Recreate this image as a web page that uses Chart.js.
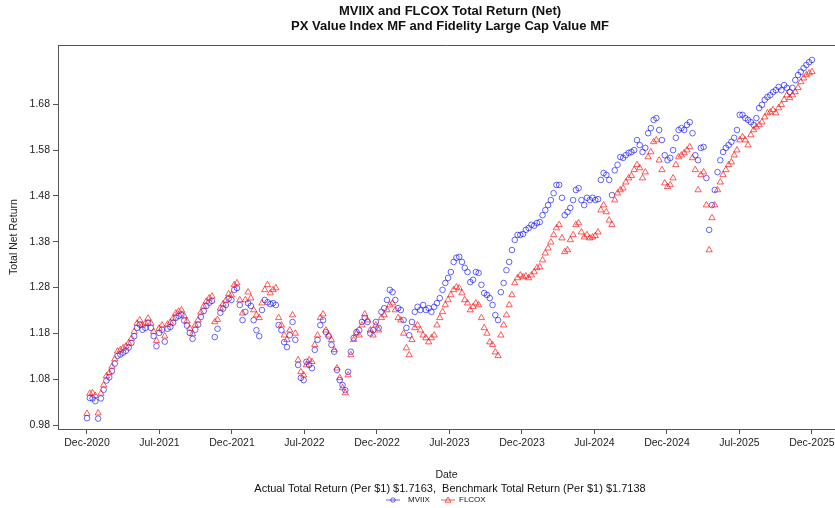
<!DOCTYPE html>
<html>
<head>
<meta charset="utf-8">
<script src="https://cdn.jsdelivr.net/npm/chart.js@4.4.1/dist/chart.umd.min.js"></script>
<style>
  html, body { margin: 0; padding: 0; background: #fff; }
  #wrap { width: 835px; height: 508px; }
</style>
</head>
<body>
<div id="wrap"><canvas id="chart" width="835" height="508"></canvas></div>
<script>
'use strict';

// weekly readings, Dec-2020 .. Dec-2025 (week index 0..261)
const mviixValues = [
  0.995,1.039,1.038,1.032,0.994,1.038,1.057,1.077,1.084,1.098,1.114,1.131,1.134,1.138,1.142,1.149,1.159,1.174,1.192,1.199,1.188,1.192,1.203,1.192,1.174,1.152,1.181,1.188,1.162,1.19,1.194,1.203,1.214,1.218,1.221,1.208,1.197,1.181,1.168,1.188,1.199,1.216,1.229,1.24,1.247,1.251,1.172,1.19,1.225,1.234,1.242,1.256,
  1.253,1.275,1.279,1.242,1.209,1.227,1.246,1.24,1.209,1.187,1.174,1.231,1.253,1.248,1.244,1.246,1.242,1.198,1.187,1.161,1.15,1.176,1.205,1.166,1.111,1.083,1.078,1.118,1.111,1.104,1.144,1.166,1.198,1.209,1.183,1.174,1.155,1.14,1.1,1.078,1.067,1.056,1.096,1.14,1.17,1.183,1.187,1.205,1.214,1.205,1.18,1.187,1.205,
  1.192,1.227,1.235,1.253,1.275,1.27,1.253,1.235,1.231,1.209,1.192,1.176,1.205,1.227,1.238,1.231,1.242,1.231,1.235,1.227,1.238,1.246,1.257,1.275,1.29,1.301,1.314,1.336,1.345,1.347,1.336,1.323,1.314,1.292,1.297,1.314,1.312,1.286,1.268,1.264,1.257,1.242,1.22,1.209,1.27,1.29,1.318,1.336,1.362,1.384,1.395,1.395,
  1.397,1.406,1.41,1.417,1.415,1.421,1.423,1.438,1.449,1.46,1.471,1.486,1.504,1.504,1.476,1.438,1.445,1.454,1.471,1.493,1.497,1.471,1.46,1.476,1.471,1.476,1.471,1.473,1.515,1.53,1.526,1.515,1.482,1.536,1.548,1.565,1.563,1.569,1.574,1.576,1.58,1.602,1.591,1.576,1.585,1.617,1.628,1.646,1.65,1.624,1.602,1.569,1.558,
  1.563,1.58,1.607,1.624,1.628,1.624,1.635,1.641,1.617,1.569,1.558,1.585,1.587,1.519,1.406,1.46,1.493,1.532,1.558,1.576,1.585,1.591,1.598,1.607,1.624,1.657,1.657,1.65,1.646,1.641,1.635,1.65,1.672,1.679,1.69,1.696,1.7,1.707,1.711,1.718,1.711,1.722,1.716,1.707,1.716,1.733,1.744,1.751,1.759,1.766,1.772,1.777
];

const flcoxValues = [
  1.005,1.049,1.05,1.044,1.006,1.049,1.067,1.087,1.094,1.108,1.124,1.141,1.144,1.148,1.152,1.159,1.169,1.184,1.202,1.209,1.198,1.202,1.213,1.202,1.184,1.164,1.191,1.198,1.174,1.2,1.204,1.213,1.224,1.228,1.231,1.218,1.207,1.191,1.179,1.198,1.209,1.226,1.239,1.25,1.257,1.261,1.205,1.21,1.235,1.244,1.252,1.266,
  1.264,1.286,1.29,1.253,1.224,1.253,1.27,1.257,1.231,1.22,1.214,1.246,1.275,1.286,1.268,1.275,1.279,1.214,1.198,1.176,1.166,1.187,1.22,1.18,1.122,1.096,1.089,1.111,1.122,1.118,1.155,1.176,1.214,1.222,1.187,1.176,1.166,1.144,1.104,1.083,1.061,1.05,1.089,1.133,1.166,1.18,1.176,1.198,1.222,1.209,1.187,1.176,1.198,
  1.187,1.214,1.22,1.231,1.242,1.246,1.231,1.214,1.209,1.18,1.148,1.133,1.166,1.192,1.198,1.187,1.176,1.17,1.161,1.17,1.176,1.198,1.214,1.227,1.242,1.253,1.264,1.275,1.281,1.279,1.268,1.253,1.246,1.231,1.238,1.246,1.242,1.214,1.192,1.18,1.161,1.155,1.139,1.131,1.176,1.198,1.22,1.242,1.264,1.29,1.301,1.307,
  1.303,1.305,1.301,1.307,1.314,1.323,1.325,1.34,1.355,1.366,1.379,1.395,1.41,1.417,1.388,1.358,1.362,1.384,1.395,1.417,1.421,1.401,1.39,1.395,1.388,1.39,1.393,1.401,1.449,1.46,1.445,1.427,1.417,1.471,1.486,1.493,1.497,1.51,1.519,1.524,1.537,1.548,1.541,1.519,1.532,1.565,1.576,1.598,1.602,1.558,1.537,1.508,1.5,
  1.504,1.519,1.548,1.565,1.569,1.574,1.58,1.587,1.563,1.537,1.493,1.526,1.532,1.46,1.362,1.432,1.46,1.493,1.51,1.526,1.537,1.548,1.554,1.569,1.58,1.602,1.609,1.602,1.591,1.613,1.624,1.63,1.635,1.641,1.652,1.661,1.663,1.668,1.661,1.672,1.679,1.69,1.7,1.694,1.7,1.707,1.716,1.729,1.737,1.744,1.748,1.751
];

// axis ticks (x in week index)
const xTickPos = [0, 26.1, 52.2, 78.3, 104.4, 130.5, 156.6, 182.7, 208.8, 234.9, 261];
const xTickLabels = ['Dec-2020', 'Jul-2021', 'Dec-2021', 'Jul-2022', 'Dec-2022', 'Jul-2023',
  'Dec-2023', 'Jul-2024', 'Dec-2024', 'Jul-2025', 'Dec-2025'];
const yTickValues = [0.98, 1.08, 1.18, 1.28, 1.38, 1.48, 1.58, 1.68];

const titleLines = ['MVIIX and FLCOX Total Return (Net)', 'PX Value Index MF and Fidelity Large Cap Value MF'];
const footNote = 'Actual Total Return (Per $1) $1.7163,  Benchmark Total Return (Per $1) $1.7138';
const seriesNames = ['MVIIX', 'FLCOX'];

const FONT = '"Liberation Sans", Arial, sans-serif';
const BLUE = 'rgba(0, 0, 255, 0.6)';
const RED = 'rgba(255, 0, 0, 0.65)';
const AXIS = '#555';

const toPoints = (vals) => vals.map((v, i) => ({ x: i, y: v }));

// titles, top frame line, footnote and legend
const decorPlugin = {
  id: 'decor',
  afterDraw(chart) {
    const ctx = chart.ctx;
    const area = chart.chartArea;
    const cx = 450;
    ctx.save();
    ctx.strokeStyle = AXIS;
    ctx.lineWidth = 1;
    ctx.beginPath();
    ctx.moveTo(area.left, area.top + 0.5);
    ctx.lineTo(area.right, area.top + 0.5);
    ctx.stroke();

    ctx.fillStyle = '#111';
    ctx.textAlign = 'center';
    ctx.textBaseline = 'middle';
    ctx.font = 'bold 13px ' + FONT;
    ctx.fillText(titleLines[0], cx, 11);
    ctx.fillText(titleLines[1], cx, 26);

    ctx.font = '11px ' + FONT;
    ctx.fillText(footNote, cx, 489);

    // legend: line + marker, then name
    const ly = 500;
    ctx.font = '8px ' + FONT;
    ctx.textAlign = 'left';
    ctx.lineWidth = 1;
    ctx.strokeStyle = BLUE;
    ctx.beginPath(); ctx.moveTo(386, ly); ctx.lineTo(400, ly); ctx.stroke();
    ctx.beginPath(); ctx.arc(393, ly, 2.2, 0, Math.PI * 2); ctx.stroke();
    ctx.fillText(seriesNames[0], 408, ly);
    ctx.strokeStyle = RED;
    ctx.beginPath(); ctx.moveTo(441, ly); ctx.lineTo(455, ly); ctx.stroke();
    ctx.beginPath();
    ctx.moveTo(448, ly - 3); ctx.lineTo(451, ly + 2.2); ctx.lineTo(445, ly + 2.2); ctx.closePath();
    ctx.stroke();
    ctx.fillText(seriesNames[1], 459, ly);
    ctx.restore();
  }
};

new Chart(document.getElementById('chart'), {
  type: 'scatter',
  data: {
    datasets: [
      {
        label: seriesNames[1],
        data: toPoints(flcoxValues),
        pointStyle: 'triangle',
        pointRadius: 3.6,
        borderColor: RED,
        backgroundColor: 'rgba(0,0,0,0)',
        pointBorderWidth: 1,
        order: 0
      },
      {
        label: seriesNames[0],
        data: toPoints(mviixValues),
        pointStyle: 'circle',
        pointRadius: 2.8,
        borderColor: BLUE,
        backgroundColor: 'rgba(0,0,0,0)',
        pointBorderWidth: 1,
        order: 1
      }
    ]
  },
  options: {
    responsive: false,
    animation: false,
    events: [],
    layout: { autoPadding: false, padding: { top: 45, left: 0, right: 0, bottom: 0 } },
    plugins: {
      legend: { display: false },
      title: { display: false },
      tooltip: { enabled: false }
    },
    scales: {
      x: {
        type: 'linear',
        min: -10.44,
        max: 269.3,
        afterFit: (scale) => {
          scale.height = 79;
          scale.paddingLeft = 0;
          scale.paddingRight = 0;
        },
        afterBuildTicks: (scale) => { scale.ticks = xTickPos.map((v) => ({ value: v })); },
        ticks: {
          autoSkip: false,
          maxRotation: 0,
          padding: 3,
          color: '#222',
          font: { family: FONT, size: 10.5 },
          callback: (value, i) => xTickLabels[i]
        },
        grid: { drawOnChartArea: false, drawTicks: true, tickLength: 5, tickColor: AXIS },
        border: { display: true, color: AXIS, width: 1 },
        title: {
          display: true,
          text: 'Date',
          color: '#222',
          font: { family: FONT, size: 10.5 },
          padding: { top: 0, bottom: 26.7 }
        }
      },
      y: {
        type: 'linear',
        min: 0.9713,
        max: 1.8095,
        afterFit: (scale) => { scale.width = 58; },
        afterBuildTicks: (scale) => { scale.ticks = yTickValues.map((v) => ({ value: v })); },
        ticks: {
          padding: 3,
          color: '#222',
          font: { family: FONT, size: 10.5 },
          callback: (value) => value.toFixed(2)
        },
        grid: { drawOnChartArea: false, drawTicks: true, tickLength: 5, tickColor: AXIS },
        border: { display: true, color: AXIS, width: 1 },
        title: {
          display: true,
          text: 'Total Net Return',
          color: '#222',
          font: { family: FONT, size: 10.5 },
          padding: { top: 7.7, bottom: 0 }
        }
      }
    }
  },
  plugins: [decorPlugin]
});
</script>
</body>
</html>
